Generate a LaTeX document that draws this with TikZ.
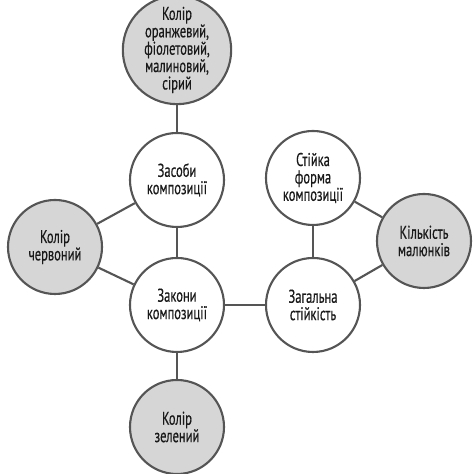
\documentclass[tikz,border=0pt]{standalone}
\usepackage{fontspec}
\setmainfont{PT Sans}[FakeStretch=0.68, FakeBold=0.4]
\usepackage{tikz}
\usetikzlibrary{positioning}

\definecolor{rimgray}{HTML}{555555}
\definecolor{ballgray}{HTML}{D6D6D6}

\tikzset{
    ball/.style={draw=rimgray, line width=1.2pt, circle, minimum size=1.88cm, inner sep=0pt,
        align=center, font=\fontsize{10.5}{9.9}\selectfont, text=black!90},
    whiteball/.style={ball, fill=white},
    grayball/.style={ball, fill=ballgray},
    link/.style={draw=rimgray, line width=1.2pt}
}

\begin{document}
\begin{tikzpicture}[on grid]
    \useasboundingbox (-3.54,-3.38) rectangle (5.96,6.1);

    \node [whiteball] (zakony) {Закони\\композиції};
    \node [whiteball, above=2.5cm of zakony] (zasoby) {Засоби\\композиції};
    \node [grayball, above=2.6cm of zasoby] (kolir) {Колір\\оранжевий,\\фіолетовий,\\малиновий,\\сірий};
    \node [grayball, below=2.44cm of zakony] (zelenyi) {Колір\\зелений};
    \node [grayball, above left=1.16cm and 2.44cm of zakony] (chervonyi) {Колір\\червоний};
    \node [whiteball, right=2.72cm of zakony] (zahalna) {Загальна\\стійкість};
    \node [whiteball, above=2.54cm of zahalna] (stiika) {Стійка\\форма\\композиції};
    \node [grayball, above right=1.28cm and 2.22cm of zahalna] (kilkist) {Кількість\\малюнків};

    % зв'язки
    \draw [link] (kolir) -- (zasoby);
    \draw [link] (zasoby) -- (zakony);
    \draw [link] (zakony) -- (zelenyi);
    \draw [link] (chervonyi) -- (zasoby);
    \draw [link] (chervonyi) -- (zakony);
    \draw [link] (zakony) -- (zahalna);
    \draw [link] (zahalna) -- (stiika);
    \draw [link] (stiika) -- (kilkist);
    \draw [link] (zahalna) -- (kilkist);

\end{tikzpicture}
\end{document}
